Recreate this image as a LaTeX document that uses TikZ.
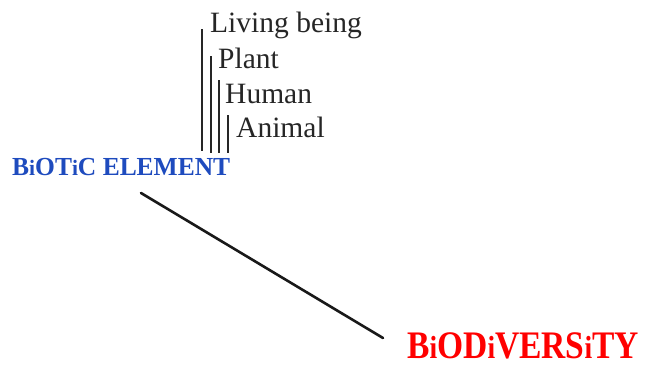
\documentclass[tikz,border=0pt]{standalone}
\usepackage{fontspec}
\usepackage{graphicx}
\setmainfont{Liberation Serif}
\definecolor{bioblue}{RGB}{30,75,190}
\definecolor{biored}{RGB}{255,0,0}
\tikzset{
  lbl/.style={anchor=base west, inner sep=0pt, font=\fontsize{29.5}{31}\selectfont, text=black!85},
  conn/.style={line width=1.3pt, black!85},
  title/.style={anchor=base west, inner sep=0pt, font=\bfseries},
}
\begin{document}
\begin{tikzpicture}[x=1pt,y=-1pt]
\useasboundingbox (0,0) rectangle (647,367);
\node[lbl] (lv) at (210,32) {Living being};
\node[lbl] (pl) at (218,68) {Plant};
\node[lbl] (hu) at (225,103) {Human};
\node[lbl] (an) at (236,137) {Animal};
\node[title, text=bioblue] (bio) at (12,175) {\scalebox{0.98}[1]{\fontsize{26}{28}\selectfont B{\fontsize{22}{24}\selectfont i}OT{\fontsize{22}{24}\selectfont i}C ELEMENT}};
\node[title, text=biored] (div) at (407,358) {\scalebox{0.86}[1]{\fontsize{39}{41}\selectfont B{\fontsize{32}{34}\selectfont i}OD{\fontsize{32}{34}\selectfont i}VERS{\fontsize{32}{34}\selectfont i}TY}};
\coordinate (l1t) at (202,29);  \coordinate (l1b) at (202,151);
\coordinate (l2t) at (211,56);  \coordinate (l2b) at (211,153);
\coordinate (l3t) at (219,80);  \coordinate (l3b) at (219,153);
\coordinate (l4t) at (228,115); \coordinate (l4b) at (228,153);
\draw[conn] (l1t) -- (l1b);
\draw[conn] (l2t) -- (l2b);
\draw[conn] (l3t) -- (l3b);
\draw[conn] (l4t) -- (l4b);
\coordinate (s) at (141,193);
\coordinate (e) at (383,338);
\draw[line width=2.6pt, black!90, line cap=round] (s) -- (e);
\end{tikzpicture}
\end{document}
